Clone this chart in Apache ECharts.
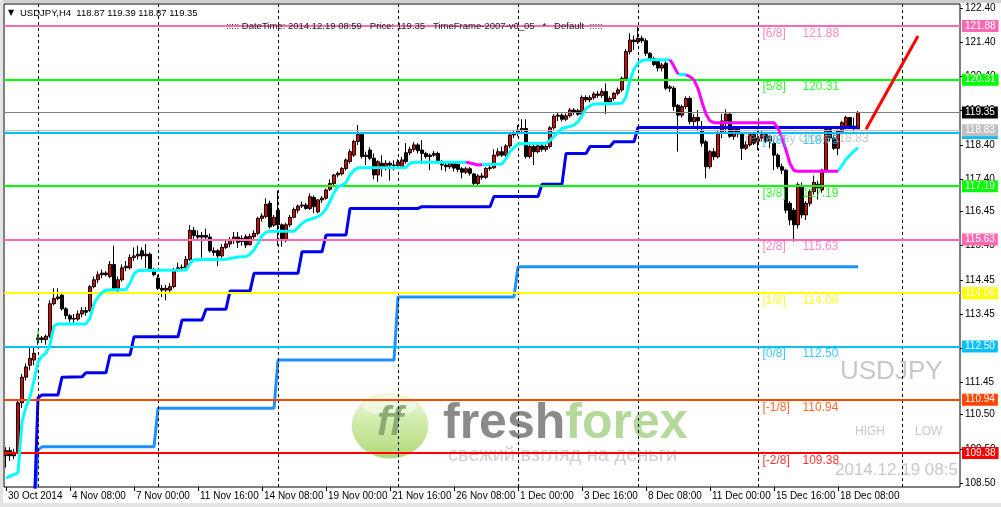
<!DOCTYPE html>
<html><head><meta charset="utf-8">
<script src="https://cdn.jsdelivr.net/npm/echarts@6/dist/echarts.min.js"></script>
<style>
html,body{margin:0;padding:0;background:#fff;}
#c{width:1001px;height:507px;position:absolute;left:0;top:0;}
.strip{position:absolute;pointer-events:none;}
</style></head><body>
<div id="c"></div>
<div class="strip" style="left:0;top:0;width:1001px;height:3px;background:#D0D0D0"></div>
<div class="strip" style="left:0;top:503px;width:1001px;height:4px;background:#E4E4E4"></div>
<div class="strip" style="left:0;top:0;width:3px;height:507px;background:#E4E4E4"></div>
<script>
// ---------- data ----------
const xLabels = ['30 Oct 2014','4 Nov 08:00','7 Nov 00:00','11 Nov 16:00','14 Nov 08:00','19 Nov 00:00','21 Nov 16:00','26 Nov 08:00','1 Dec 00:00','3 Dec 16:00','8 Dec 08:00','11 Dec 00:00','15 Dec 16:00','18 Dec 08:00'];
const labelStep = 16;
const slotCount = 239;
const yTicks = [122.40,121.40,120.40,119.40,118.40,117.40,116.45,115.45,114.45,113.45,112.45,111.45,110.50,109.50,108.50];
const weekLines = [8,38,68,98,128,158,188,224];

// [open, close, low, high]
const candles = [
[109.30,109.45,108.95,109.55],[109.45,109.30,109.15,109.55],[109.30,109.40,109.20,109.50],[109.40,110.85,109.35,110.95],
[110.85,111.60,110.70,111.70],[111.60,111.90,111.50,112.00],[111.95,112.15,111.80,112.45],[112.10,112.30,111.95,112.45],
[112.70,112.75,112.55,112.85],[112.75,112.70,112.60,112.80],[112.70,112.80,112.55,112.85],[112.80,113.75,112.75,113.85],
[113.75,113.90,113.70,114.20],[113.90,113.95,113.85,114.20],[114.00,113.60,113.55,114.05],[113.60,113.40,113.30,113.65],
[113.40,113.30,113.20,113.45],[113.32,113.30,113.15,113.45],[113.30,113.45,113.25,113.55],[113.45,113.55,113.35,113.65],
[113.55,113.50,113.40,113.65],[113.55,114.25,113.50,114.30],[114.25,114.45,114.20,114.55],[114.45,114.60,114.35,114.70],
[114.60,114.65,114.50,114.75],[114.65,114.60,114.55,114.70],[114.55,114.90,114.50,115.00],[114.90,114.20,114.15,115.45],
[114.20,114.45,114.10,114.55],[114.45,114.80,114.40,114.90],[114.80,114.85,114.70,115.00],[114.80,115.10,114.75,115.20],
[115.10,115.15,115.00,115.40],[115.15,115.20,115.05,115.45],[115.30,115.15,115.05,115.40],[115.15,115.20,114.80,115.50],
[115.20,114.75,114.70,115.25],[114.75,114.60,114.55,114.80],[114.50,114.20,114.15,114.60],[114.20,114.15,113.95,114.30],
[114.15,114.20,113.85,114.30],[114.15,114.25,114.05,114.35],[114.25,114.75,114.20,114.80],[114.75,114.80,114.70,114.95],
[114.80,114.82,114.70,114.90],[114.80,115.05,114.75,115.15],[115.05,115.90,115.00,116.05],[115.90,115.75,115.65,116.00],
[115.75,115.70,115.60,115.90],[115.70,115.75,115.10,115.85],[115.75,115.70,115.60,115.95],[115.70,115.30,115.25,115.80],
[115.30,115.25,115.15,115.40],[115.30,115.15,114.85,115.35],[115.15,115.40,115.10,115.50],[115.40,115.50,115.35,115.60],
[115.50,115.60,115.40,115.70],[115.60,115.70,115.50,115.85],[115.70,115.55,115.38,115.85],[115.57,115.66,115.45,115.75],
[115.71,115.47,115.38,115.78],[115.48,115.72,115.45,115.80],[115.71,115.81,115.65,115.90],[115.81,116.25,115.75,116.30],
[116.25,116.32,116.15,116.40],[116.30,116.66,116.25,116.84],[116.69,116.00,115.95,116.77],[116.05,116.28,116.00,116.35],
[116.49,116.06,115.45,117.06],[116.06,115.66,115.42,116.10],[115.62,116.06,115.55,116.12],[116.06,116.28,116.00,116.35],
[116.28,116.51,116.25,116.57],[116.49,116.61,116.40,116.65],[116.61,116.64,116.55,116.74],[116.64,116.54,116.50,116.70],
[116.54,116.88,116.50,116.98],[116.86,116.59,116.40,116.92],[116.44,116.79,116.40,116.82],[116.79,116.84,116.70,116.90],
[116.84,117.08,116.80,117.12],[117.10,117.27,117.05,117.39],[117.27,117.52,117.20,117.55],[117.52,117.57,117.45,117.62],
[117.55,117.71,117.50,117.75],[117.71,117.96,117.65,118.00],[117.91,118.20,117.85,118.27],[118.10,118.50,118.05,118.55],
[118.50,118.70,118.40,118.98],[118.70,118.06,118.00,118.75],[118.06,118.10,117.81,118.20],[118.25,118.01,117.95,118.33],
[118.01,117.52,117.39,118.15],[117.52,117.91,117.32,117.95],[117.86,117.76,117.47,118.10],[117.76,117.86,117.65,117.95],
[117.86,117.81,117.35,117.92],[117.81,117.80,117.65,117.95],[117.80,117.90,117.70,117.98],[117.76,117.96,117.70,118.05],
[118.17,117.91,117.85,118.45],[118.17,118.27,118.10,118.35],[118.27,118.40,118.20,118.48],[118.40,118.23,118.15,118.45],
[118.25,118.15,117.84,118.54],[118.15,118.06,118.00,118.20],[118.06,118.10,117.66,118.15],[118.10,118.15,118.05,118.22],
[118.15,117.91,117.85,118.20],[117.91,117.81,117.66,117.96],[117.81,117.76,117.62,117.88],[117.76,117.86,117.70,117.92],
[117.86,117.72,117.62,117.90],[117.84,117.68,117.60,117.90],[117.70,117.60,117.42,117.75],[117.60,117.70,117.55,117.76],
[117.70,117.57,117.50,117.75],[117.55,117.27,117.22,117.58],[117.27,117.49,117.22,117.55],[117.49,117.45,117.38,117.58],
[117.45,117.71,117.40,117.75],[117.71,117.73,117.65,117.80],[117.73,118.10,117.70,118.27],[118.10,118.20,118.05,118.30],
[118.20,118.10,118.05,118.35],[118.10,118.37,118.05,118.42],[118.37,118.69,118.30,118.75],[118.69,118.74,118.60,118.80],
[118.74,118.83,118.65,118.98],[118.83,118.88,118.78,119.15],[118.88,118.06,118.00,119.15],[118.06,118.35,118.00,118.40],
[118.35,118.20,117.81,118.40],[118.20,118.37,118.15,118.42],[118.37,118.27,118.20,118.45],[118.27,118.35,118.20,118.42],
[118.35,118.90,118.30,118.95],[118.90,119.24,118.85,119.30],[119.24,119.27,119.10,119.35],[119.27,119.15,119.08,119.32],
[119.15,119.25,119.10,119.32],[119.25,119.42,119.20,119.48],[119.42,119.35,119.28,119.48],[119.40,119.30,119.25,119.46],
[119.30,119.79,119.25,119.85],[119.79,119.72,119.65,119.85],[119.72,119.78,119.65,119.85],[119.78,119.89,119.72,119.95],
[119.89,119.85,119.78,119.98],[119.85,119.96,119.78,120.05],[119.96,119.66,119.30,120.20],[119.66,119.76,119.60,119.82],
[119.76,119.91,119.70,119.95],[119.91,120.01,119.85,120.08],[120.01,120.35,119.95,120.40],[120.35,121.13,120.30,121.20],
[121.13,121.47,121.05,121.67],[121.47,121.42,121.18,121.60],[121.42,121.52,121.35,121.85],[121.52,121.45,121.38,121.60],
[121.45,121.08,121.00,121.52],[121.08,120.93,120.85,121.12],[120.93,120.75,120.70,120.98],[120.84,120.65,120.55,120.90],
[120.65,120.74,120.55,120.80],[120.79,120.06,120.00,120.85],[120.06,120.10,119.95,120.15],[120.06,119.52,119.40,120.12],
[119.56,119.27,118.20,119.60],[119.27,119.52,119.20,119.58],[119.52,119.76,119.45,119.82],[119.76,119.08,119.00,119.82],
[119.08,119.20,118.95,119.30],[119.20,119.10,118.80,119.42],[118.83,118.45,118.35,119.10],[118.49,117.76,117.42,118.55],
[117.76,118.20,117.70,118.25],[118.20,118.05,117.95,118.30],[118.05,118.74,118.00,118.80],[118.74,119.10,118.60,119.30],
[119.10,119.30,118.75,119.44],[119.30,118.65,118.60,119.35],[118.65,118.90,118.55,118.95],[118.90,118.72,118.62,118.95],
[118.72,118.30,117.96,118.78],[118.30,118.40,118.25,118.50],[118.40,118.70,118.35,118.75],[118.70,118.45,118.40,118.75],
[118.50,118.60,118.25,118.85],[118.60,118.70,118.50,118.80],[118.70,118.50,118.45,118.78],[118.50,118.65,118.30,118.70],
[118.45,118.10,117.66,118.55],[118.10,117.76,117.70,118.15],[117.76,117.66,117.55,117.85],[117.66,116.49,116.40,117.70],
[116.69,116.20,116.05,116.75],[116.49,116.06,115.57,116.55],[116.06,117.23,115.95,117.30],[117.18,116.35,116.25,117.30],
[116.35,116.69,116.20,116.75],[116.69,117.03,116.60,117.10],[117.03,117.30,116.95,117.50],[117.25,117.15,116.80,117.35],
[117.08,117.66,117.00,117.70],[117.66,118.85,117.60,118.90],[118.85,118.60,118.50,118.95],[118.60,118.30,118.25,118.70],
[118.30,118.80,118.10,118.85],[118.80,119.05,118.75,119.10],[118.90,119.20,118.85,119.25],[119.20,118.95,118.88,119.22],
[118.95,118.87,118.80,119.20],[118.87,119.35,118.87,119.39]
];

// trailing indicator, bullish (cyan) and bearish (magenta) pieces: [barIndex, price]
const cyanPieces = [
 [[0,108.65],[3,108.80],[4,110.30],[5,110.73],[6,111.02],[7,111.50],[8,112.04],[9,112.22],[10,112.30],[11,112.55],[12,113.10],[13,113.16],[20,113.16],[21,113.33],[22,113.75],[23,113.95],[24,114.08],[25,114.15],[30,114.17],[31,114.35],[32,114.62],[33,114.72],[45,114.74],[46,114.92],[47,115.04],[55,115.05],[58,115.12],[60,115.13],[61,115.20],[62,115.32],[63,115.52],[64,115.74],[65,115.84],[66,115.87],[72,115.87],[73,115.98],[74,116.10],[75,116.18],[78,116.30],[79,116.38],[80,116.52],[81,116.75],[82,117.00],[83,117.17],[84,117.22],[85,117.30],[86,117.52],[87,117.66],[88,117.73],[100,117.74],[101,117.86],[102,117.89],[115,117.89]],
 [[119,117.82],[124,117.84],[125,118.00],[126,118.20],[127,118.32],[128,118.43],[135,118.45],[136,118.53],[137,118.65],[138,118.76],[139,118.88],[141,118.94],[142,118.98],[143,119.08],[144,119.25],[145,119.47],[146,119.54],[147,119.60],[154,119.62],[155,119.80],[156,120.30],[157,120.62],[158,120.79],[159,120.87],[160,120.89],[166,120.89]],
 [[168,120.47],[170,120.45]],
 [[208,117.63],[209,117.80],[210,117.98],[211,118.10],[212,118.22],[213,118.32]]
];
const magentaPieces = [
 [[115,117.89],[116,117.87],[117,117.84],[118,117.81],[119,117.82]],
 [[166,120.89],[167,120.70],[168,120.47]],
 [[170,120.45],[171,120.40],[172,120.30],[173,120.05],[174,119.65],[175,119.30],[176,119.10],[177,119.05],[192,119.05],[193,118.89],[194,118.60],[195,118.25],[196,117.85],[197,117.65],[198,117.63],[208,117.63]]
];
const navyStep = [[7,107.5],[8,111.00],[9,111.08],[13,111.08],[14,111.60],[19,111.61],[20,111.73],[25,111.73],[26,112.25],[31,112.25],[32,112.78],[43,112.78],[44,113.27],[49,113.27],[50,113.59],[55,113.59],[56,114.12],[61,114.12],[62,114.64],[73,114.64],[74,115.27],[79,115.27],[80,115.76],[85,115.76],[86,116.54],[103,116.54],[104,116.59],[121,116.59],[122,116.89],[133,116.89],[134,117.25],[139,117.25],[140,118.15],[145,118.15],[146,118.35],[151,118.35],[152,118.49],[157,118.49],[158,118.91],[213,118.91]];
const dodgerStep = [[7,107.5],[8,109.47],[9,109.56],[37,109.56],[38,110.69],[67,110.69],[68,112.10],[97,112.10],[98,113.95],[127,113.95],[128,114.83],[213,114.83]];
const forecast = [[215,118.86],[227.5,121.59]];
const signalMark = [[8,112.98],[8,112.62]];

const levelTags = ['[6/8]','[5/8]','[4/8]','[3/8]','[2/8]','[1/8]','[0/8]','[-1/8]','[-2/8]'];
const levelPrices = [121.88,120.31,118.75,117.19,115.63,114.06,112.50,110.94,109.38];
const levelColors = ['#FF69B4','#00FF00','#00BFFF','#00FF00','#FF69B4','#FFFF00','#00BFFF','#FF4500','#FF0000'];
const bidPrice = 119.35;
const prevClose = 118.83;

// ---------- chart ----------
const FONT = 'Liberation Sans';
const cats = Array.from({length: slotCount}, (_, i) => String(i));
const isLabel = (i) => i % labelStep === 0 && i / labelStep < xLabels.length;

const levelLines = levelPrices.map((p, k) => ({
  yAxis: p,
  lineStyle: {color: levelColors[k], width: 2, type: 'solid'},
  label: {show: true, position: 'end', distance: 2, formatter: p.toFixed(2), color: '#fff',
          backgroundColor: levelColors[k], padding: [1, 3, 1, 3], fontSize: 10, fontFamily: FONT}
}));
levelLines.push({yAxis: prevClose, lineStyle: {color: '#C0C0C0', width: 1, type: 'solid'},
  label: {show: true, position: 'end', distance: 2, formatter: prevClose.toFixed(2), color: '#fff',
          backgroundColor: '#C0C0C0', padding: [1, 3, 1, 3], fontSize: 10, fontFamily: FONT}});
levelLines.push({yAxis: bidPrice, lineStyle: {color: '#808080', width: 1, type: 'solid'},
  label: {show: true, position: 'end', distance: 2, formatter: bidPrice.toFixed(2), color: '#fff',
          backgroundColor: '#000', padding: [1, 3, 1, 3], fontSize: 10, fontFamily: FONT}});

const textItems = [];
levelPrices.forEach((p, k) => {
  textItems.push({value: [189, p], label: {formatter: levelTags[k], color: levelColors[k]}});
  textItems.push({value: [199, p], label: {formatter: p.toFixed(2), color: levelColors[k]}});
});

const series = [];
series.push({type: 'line', name: 'grid', data: [], z: 1, silent: true,
  markLine: {symbol: 'none', silent: true, animation: false, label: {show: false},
    lineStyle: {color: '#000', width: 1, type: [3, 3]},
    data: weekLines.map(v => ({xAxis: v}))}});
series.push({type: 'candlestick', name: 'USDJPY', data: candles, z: 2, barWidth: 3, silent: true,
  itemStyle: {color: '#E00000', color0: '#000000', borderColor: '#000000', borderColor0: '#000000', borderColorDoji: '#000000', borderWidth: 1}});
series.push({type: 'line', name: 'levels', data: [], z: 3, silent: true,
  markLine: {symbol: 'none', silent: true, animation: false, data: levelLines}});
const lineS = (data, color, width, z) => ({type: 'line', data, showSymbol: false, symbol: 'none', z: z || 4, silent: true,
  lineStyle: {color, width}, itemStyle: {color}, animation: false});
series.push(lineS(dodgerStep, '#1E90FF', 3));
series.push(lineS(navyStep, '#0000F0', 3));
cyanPieces.forEach(p => series.push(lineS(p, '#00FFFF', 3, 5)));
magentaPieces.forEach(p => series.push(lineS(p, '#FF00FF', 3, 5)));
series.push(lineS(forecast, '#FF0000', 3, 5));
series.push(lineS(signalMark, '#00C000', 1, 5));
series.push({type: 'scatter', data: textItems, z: 6, symbolSize: 1, silent: true, itemStyle: {color: 'transparent'},
  label: {show: true, position: 'right', distance: 0, offset: [0, 7.5], fontSize: 12, fontFamily: FONT}});
series.push({type: 'scatter', data: [{value: [184, prevClose]}], z: 7, symbolSize: 1, silent: true, itemStyle: {color: 'transparent'},
  label: {show: true, position: 'right', distance: 0, offset: [0, 8], fontSize: 12, fontFamily: FONT,
    color: 'rgba(165,165,165,0.8)', formatter: 'Yesterday Close ' + prevClose.toFixed(2)}});

const chart = echarts.init(document.getElementById('c'), null, {renderer: 'canvas'});
chart.setOption({
  animation: false,
  backgroundColor: '#ffffff',
  grid: {left: 4, top: 4, width: 956, height: 483, show: true, borderColor: '#000', borderWidth: 1, backgroundColor: 'transparent'},
  xAxis: {type: 'category', data: cats, boundaryGap: true,
    axisLine: {show: false},
    axisTick: {show: true, alignWithLabel: true, length: 4, interval: (i) => isLabel(i), lineStyle: {color: '#000'}},
    axisLabel: {show: true, interval: (i) => isLabel(i), formatter: (v, i) => xLabels[i / labelStep],
      align: 'left', margin: 4, fontSize: 10, color: '#000', fontFamily: FONT, padding: [0, 0, 0, 2]},
    splitLine: {show: false}},
  yAxis: {type: 'value', position: 'right', min: 108.385, max: 122.524,
    splitLine: {show: false}, axisLine: {show: false},
    axisTick: {show: true, length: 3, customValues: yTicks, lineStyle: {color: '#000'}},
    axisLabel: {show: true, customValues: yTicks, margin: 5, fontSize: 10, color: '#000', fontFamily: FONT,
      formatter: (v) => v.toFixed(2)}},
  graphic: {elements: [
    {type: 'circle', x: 390, y: 425.5, scaleX: 1.16, shape: {cx: 0, cy: 0, r: 33}, z: 0, silent: true,
      style: {fill: new echarts.graphic.LinearGradient(0, 0, 0, 1, [
        {offset: 0, color: '#EEF8DC'}, {offset: 0.45, color: '#C6E695'}, {offset: 1, color: '#9CCF58'}]), opacity: 0.8}},
    {type: 'circle', x: 390, y: 406, scaleX: 1.5, scaleY: 0.55, shape: {cx: 0, cy: 0, r: 18}, z: 0, silent: true,
      style: {fill: '#ffffff', opacity: 0.45}},
    {type: 'text', x: 390, y: 424, z: 0, silent: true,
      style: {text: 'ff', font: 'italic bold 40px "Liberation Sans"', fill: '#7FA56C', align: 'center', verticalAlign: 'middle', opacity: 0.9}},
    {type: 'text', x: 443, y: 424, z: 0, silent: true,
      style: {text: '{a|fresh}{b|forex}', verticalAlign: 'middle',
        rich: {a: {font: 'bold 50px "Liberation Sans"', fill: '#8A8A8A', color: '#8A8A8A'},
               b: {font: 'bold 50px "Liberation Sans"', fill: '#B4D99A', color: '#B4D99A'}}}},
    {type: 'text', x: 448, y: 455, z: 0, silent: true,
      style: {text: 'свежий взгляд на деньги', font: '20px "Liberation Sans"', fill: '#CFCFCF', verticalAlign: 'middle'}},
    {type: 'text', x: 8, y: 13, z: 10, silent: true,
      style: {text: '▼', font: '8px "DejaVu Sans"', fill: '#000', verticalAlign: 'middle'}},
    {type: 'text', x: 20, y: 13, z: 10, silent: true,
      style: {text: 'USDJPY,H4  118.87 119.39 118.87 119.35', font: '9.5px "Liberation Sans"', fill: '#000', verticalAlign: 'middle'}},
    {type: 'text', x: 226, y: 26, z: 10, silent: true,
      style: {text: '::::: DateTime: 2014.12.19 08:59   Price: 119.35   TimeFrame-2007-v0_05   *   Default  :::::', font: '9.5px "Liberation Sans"', fill: '#222', verticalAlign: 'middle'}},
    {type: 'text', x: 840, y: 372, z: 0, silent: true,
      style: {text: 'USDJPY', font: '26px "Liberation Sans"', fill: '#C8C8C8', verticalAlign: 'middle'}},
    {type: 'text', x: 855, y: 432, z: 0, silent: true,
      style: {text: 'HIGH', font: '12px "Liberation Sans"', fill: '#C8C8C8', verticalAlign: 'middle'}},
    {type: 'text', x: 915, y: 432, z: 0, silent: true,
      style: {text: 'LOW', font: '12px "Liberation Sans"', fill: '#C8C8C8', verticalAlign: 'middle'}},
    {type: 'text', x: 835, y: 470, z: 0, silent: true,
      style: {text: '2014.12.19 08:59', font: '17px "Liberation Sans"', fill: '#C8C8C8', verticalAlign: 'middle',
        width: 132, overflow: 'truncate', ellipsis: ''}}
  ]},
  series
});
</script></body></html>
